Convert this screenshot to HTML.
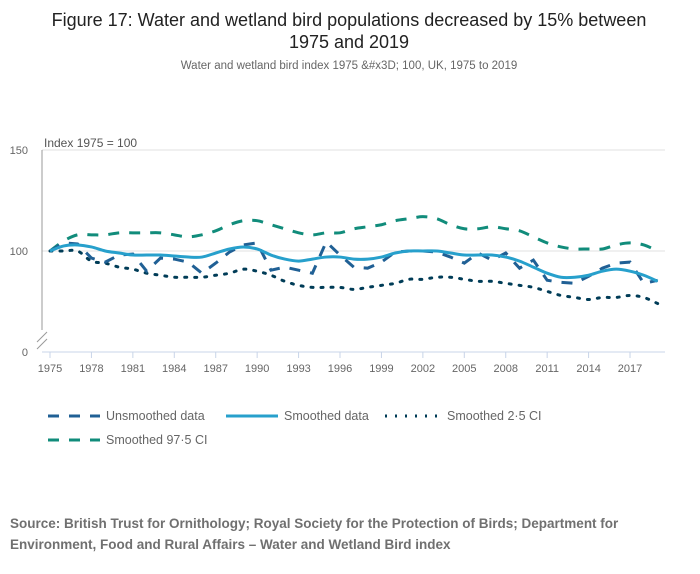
<!DOCTYPE html>
<html><head><meta charset="utf-8"><style>
body{margin:0;background:#fff;font-family:"Liberation Sans",sans-serif;}
#wrap{position:relative;width:700px;height:574px;overflow:hidden;}
</style></head><body>
<div id="wrap">
<svg id="chart" width="700" height="574" style="position:absolute;left:0;top:0">
<text x="349" y="26" text-anchor="middle" font-size="18" fill="#222">Figure 17: Water and wetland bird populations decreased by 15% between</text>
<text x="349" y="48" text-anchor="middle" font-size="18" fill="#222">1975 and 2019</text>
<text x="349" y="69" text-anchor="middle" font-size="11.5" fill="#666">Water and wetland bird index 1975 &amp;#x3D; 100, UK, 1975 to 2019</text>
<text x="44" y="147" font-size="12" fill="#555">Index 1975 = 100</text>
<g id="grid"></g><g id="series"></g><g id="axes"></g>
<g font-size="12.5" fill="#666">
<g><line x1="48" y1="416" x2="100" y2="416" stroke="#206095" stroke-width="3" stroke-dasharray="11,10"/><text x="106" y="420">Unsmoothed data</text></g>
<g><line x1="226" y1="416" x2="278" y2="416" stroke="#27a0cc" stroke-width="3"/><text x="284" y="420">Smoothed data</text></g>
<g><line x1="385" y1="416" x2="437" y2="416" stroke="#003c57" stroke-width="3" stroke-dasharray="2,8"/><text x="447" y="420">Smoothed 2·5 CI</text></g>
<g><line x1="48" y1="440" x2="100" y2="440" stroke="#118c7b" stroke-width="3" stroke-dasharray="11,10"/><text x="106" y="444">Smoothed 97·5 CI</text></g>
</g>
<text x="10" y="528" font-size="13.5" font-weight="bold" fill="#707070">Source: British Trust for Ornithology; Royal Society for the Protection of Birds; Department for</text>
<text x="10" y="549" font-size="13.5" font-weight="bold" fill="#707070">Environment, Food and Rural Affairs – Water and Wetland Bird index</text>
</svg>
</div>
<script>
const years=[];for(let y=1975;y<=2019;y++)years.push(y);
const unsmoothed=[100,104,103.5,96.5,94.5,98,98.5,90,96.5,96,94.5,89,94,99.5,103,104,90.5,92,90.5,89,104.5,98,92,91.5,94.5,99.5,100,100,99.5,97,94,99,95.5,99,91.5,95.5,85.5,84.5,84,87.5,91.5,94,94.5,84,85.5];
const smoothed=[100,102.5,103,102,100,99,98,98,98,97.5,97,97,99,101,102,101,98,96,95,96,97,97,96,96,97,99,100,100,100,99,98,98,98,97,95,92,89,87,87,88,90,91,90,88,85];
const upperCI=[100,105,108,108,108,109,109,109,109,108,107,108,110,113,115,115,113,111,109,108,109,109,111,112,113,115,116,117,116,113,111,111,112,111,110,107,104,102,101,101,101,103,104,103,100];
const lowerCI=[100,100,100,95,94,92,91,89,88,87,87,87,88,89,91,90,88,85,83,82,82,82,81,82,83,84,86,86,87,87,86,85,85,84,83,82,80,78,77,76,77,77,78,77,74];
const yTicks=[100,150];
const yBreakLabel=0;
const xTickLabels=[1975,1978,1981,1984,1987,1990,1993,1996,1999,2002,2005,2008,2011,2014,2017];
const NS='http://www.w3.org/2000/svg';
const xS=y=>50+(y-1975)*13.81;
const yS=v=>251-(v-100)*2.02;
function mk(tag,attrs,parent){const e=document.createElementNS(NS,tag);for(const k in attrs)e.setAttribute(k,attrs[k]);parent.appendChild(e);return e;}
const grid=document.getElementById('grid'),axes=document.getElementById('axes'),ser=document.getElementById('series');
yTicks.forEach(v=>{
 const l=mk('line',{x1:42,x2:665,y1:yS(v),y2:yS(v),stroke:'#e0e0e0'},grid);
 
 
 const t=mk('text',{x:28,y:yS(v)+4,'text-anchor':'end','font-size':11,fill:'#666'},axes);t.textContent=v;
 
 
});
const t0=mk('text',{x:28,y:356,'text-anchor':'end','font-size':11,fill:'#666'},axes);t0.textContent=yBreakLabel;


const ya=mk('line',{x1:42,x2:42,y1:150,y2:330,stroke:'#999'},axes);


mk('line',{x1:37,x2:47,y1:342,y2:332,stroke:'#999'},axes);
mk('line',{x1:37,x2:47,y1:349,y2:339,stroke:'#999'},axes);
const xa=mk('line',{x1:42,x2:665,y1:352,y2:352,stroke:'#c8d4e8'},axes);


xTickLabels.forEach(y=>{
 mk('line',{x1:xS(y),x2:xS(y),y1:352,y2:358,stroke:'#c8d4e8'},axes);
 const t=mk('text',{x:xS(y),y:372,'text-anchor':'middle','font-size':11,fill:'#666'},axes);t.textContent=y;
 
 
});
function line(vals,color,dash,name,smooth){
 const pts=vals.map((v,i)=>[xS(years[i]),yS(v)]);
 let d='M'+pts[0][0]+','+pts[0][1];
 if(smooth){for(let i=0;i<pts.length-1;i++){const p0=pts[i-1]||pts[i],p1=pts[i],p2=pts[i+1],p3=pts[i+2]||p2;
  const c1=[p1[0]+(p2[0]-p0[0])/6,p1[1]+(p2[1]-p0[1])/6],c2=[p2[0]-(p3[0]-p1[0])/6,p2[1]-(p3[1]-p1[1])/6];
  d+=' C'+c1+' '+c2+' '+p2;}}
 else pts.slice(1).forEach(p=>d+=' L'+p);
 const a={d:d,fill:'none',stroke:color,'stroke-width':3,'stroke-linecap':dash==='2,8'?'round':'butt'};
 if(dash)a['stroke-dasharray']=dash;
 const p=mk('path',a,ser);
 
 
}
line(upperCI,'#118c7b','11,10','series-upper-ci',true);
line(lowerCI,'#003c57','2,8','series-lower-ci',true);
line(unsmoothed,'#206095','11,10','series-unsmoothed',false);
line(smoothed,'#27a0cc',null,'series-smoothed',true);
</script>
</body></html>
